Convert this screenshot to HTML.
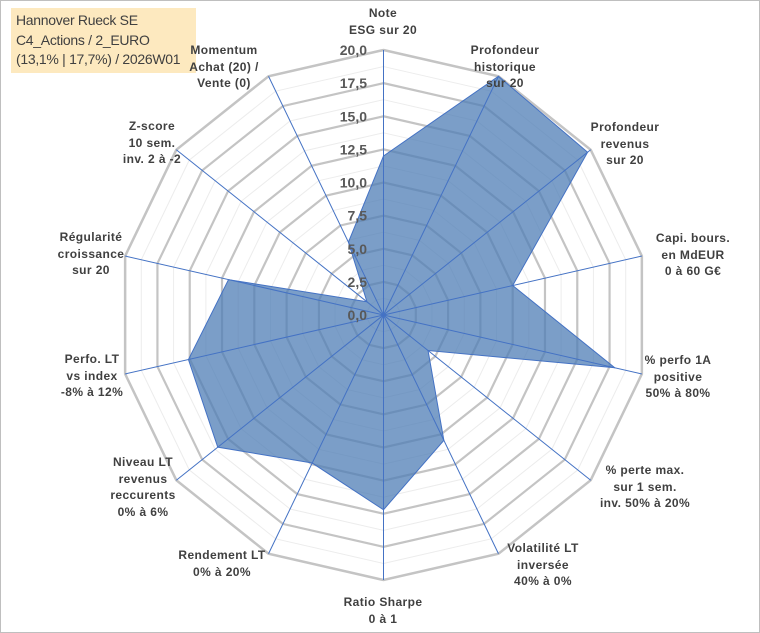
<!DOCTYPE html>
<html><head><meta charset="utf-8"><style>
body{margin:0;background:#fff}
#wrap{position:relative;width:760px;height:633px;overflow:hidden;font-family:"Liberation Sans",sans-serif}
#frame{position:absolute;left:0;top:0;width:758px;height:631px;border:1px solid #bfbfbf}
#title{position:absolute;left:11px;top:8px;width:180px;height:62px;background:#fde9bf;color:#404040;font-size:14px;line-height:19.5px;padding:3px 0 0 5px;letter-spacing:-0.3px}
.lab{position:absolute;font-size:12px;font-weight:bold;color:#404040;text-align:center;line-height:16.5px;white-space:nowrap;transform:translate(-50%,0);letter-spacing:0.4px}
</style></head><body>
<div id="wrap">
<div id="frame"></div>
<svg id="svg" width="760" height="633" style="position:absolute;left:0;top:0"></svg>
<div id="title">Hannover Rueck SE<br>C4_Actions / 2_EURO<br>(13,1% | 17,7%) / 2026W01</div>
<div class="lab" style="left:383px;top:5px">Note<br>ESG sur 20</div>
<div class="lab" style="left:505px;top:42px">Profondeur<br>historique<br>sur 20</div>
<div class="lab" style="left:625px;top:119px">Profondeur<br>revenus<br>sur 20</div>
<div class="lab" style="left:693px;top:230px">Capi. bours.<br>en MdEUR<br>0 à 60 G€</div>
<div class="lab" style="left:678px;top:352px">% perfo 1A<br>positive<br>50% à 80%</div>
<div class="lab" style="left:645px;top:462px">% perte max.<br>sur 1 sem.<br>inv. 50% à 20%</div>
<div class="lab" style="left:543px;top:540px">Volatilité LT<br>inversée<br>40% à 0%</div>
<div class="lab" style="left:383px;top:594px">Ratio Sharpe<br>0 à 1</div>
<div class="lab" style="left:222px;top:547px">Rendement LT<br>0% à 20%</div>
<div class="lab" style="left:143px;top:454px">Niveau LT<br>revenus<br>reccurents<br>0% à 6%</div>
<div class="lab" style="left:92px;top:351px">Perfo. LT<br>vs index<br>-8% à 12%</div>
<div class="lab" style="left:91px;top:229px">Régularité<br>croissance<br>sur 20</div>
<div class="lab" style="left:152px;top:118px">Z-score<br>10 sem.<br>inv. 2 à -2</div>
<div class="lab" style="left:224px;top:42px">Momentum<br>Achat (20) /<br>Vente (0)</div>
</div>
<script>
const categories=["ESG","Prof. historique","Prof. revenus","Capi","Perfo 1A","Perte max","Volatilité","Sharpe","Rendement","Niveau LT","Perfo LT","Régularité","Z-score","Momentum"];
const values=[12,20,19.7,10,17.9,4.3,10.5,14.7,12.4,16,15.1,12,1.6,6.1];
const ticks=["0,0","2,5","5,0","7,5","10,0","12,5","15,0","17,5","20,0"];
const maxV=20;
const cx=383.5,cy=315,R=265;
const NS="http://www.w3.org/2000/svg";
const svg=document.getElementById('svg');
const n=categories.length;
function pt(i,v){const a=2*Math.PI*i/n;const r=v/maxV*R;return [cx+r*Math.sin(a),cy-r*Math.cos(a)];}
function mk(t,attrs){const e=document.createElementNS(NS,t);for(const k in attrs)e.setAttribute(k,attrs[k]);svg.appendChild(e);return e;}
for(let k=1;k<=16;k++){const v=k*1.25;const p=[];for(let i=0;i<n;i++)p.push(pt(i,v).join(','));
const e=mk('polygon',{points:p.join(' '),fill:'none',stroke:k%2?'#ececec':'#c4c4c4','stroke-width':k%2?1:(k==16?2.5:2.2)});

}
const dp=values.map((v,i)=>pt(i,v).join(',')).join(' ');
const poly=mk('polygon',{points:dp,fill:'#4f7db6','fill-opacity':0.75,stroke:'#4472c4','stroke-width':1});


for(let i=0;i<n;i++){const p=pt(i,maxV);const l=mk('line',{x1:cx,y1:cy,x2:p[0],y2:p[1],stroke:'#4472c4','stroke-width':1});

}
ticks.forEach((t,k)=>{const y=cy-(k*2.5)/maxV*R;const e=mk('text',{x:367,y:y+5,'text-anchor':'end','font-size':14,'font-weight':'bold',fill:'#595959','font-family':'Liberation Sans, sans-serif'});e.textContent=t;

});
</script>
</body></html>
